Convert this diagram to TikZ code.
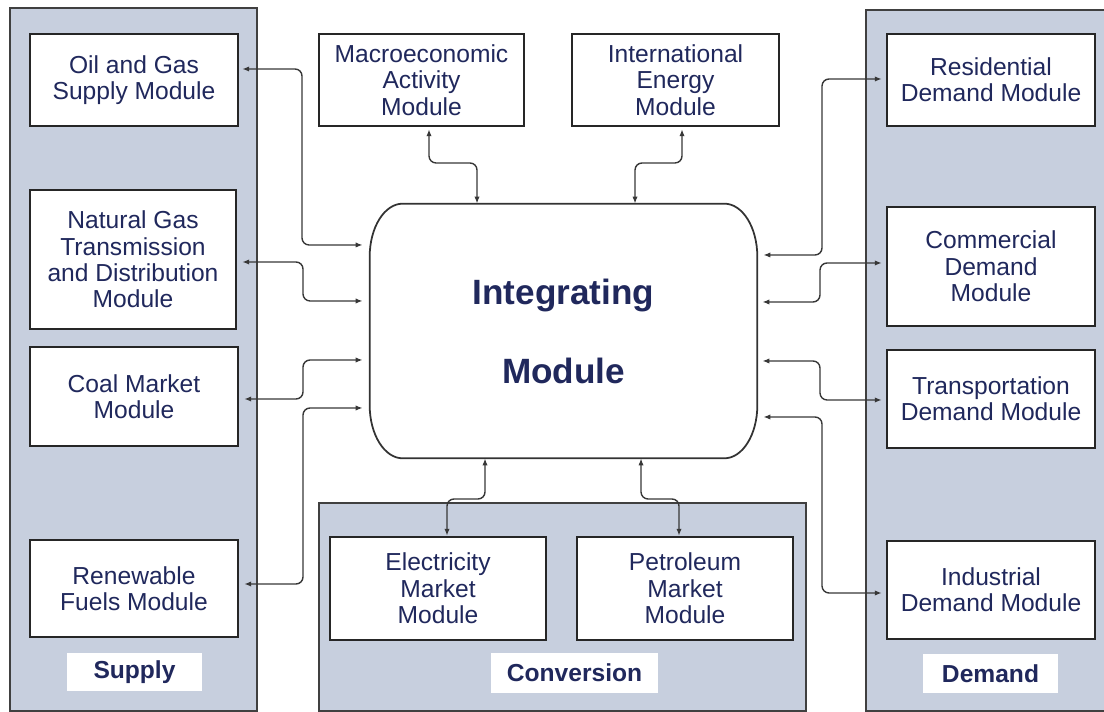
\documentclass[tikz,border=0pt]{standalone}
\usepackage{fontspec}
\setmainfont{Liberation Sans}
\usepackage{tikz}
\usetikzlibrary{arrows.meta,calc}

\definecolor{panelfill}{RGB}{199,207,222}
\definecolor{txtblue}{RGB}{32,40,92}
\definecolor{linkgray}{RGB}{55,55,55}

\newcommand{\modfont}{\fontsize{14}{15}\selectfont}
\newcommand{\tagfont}{\fontsize{14}{15}\selectfont\bfseries}

\tikzset{
  panel/.style={draw=black!75, fill=panelfill, line width=1pt},
  module/.style={rectangle, draw=black!85, fill=white, line width=1.3pt, align=center, text=txtblue, font=\modfont, inner sep=0pt},
  tag/.style={rectangle, fill=white, text=txtblue, font=\tagfont, inner sep=0pt},
  link/.style={{Latex[length=4pt,width=3pt]}-{Latex[length=4pt,width=3pt]}, draw=linkgray, line width=0.8pt, rounded corners=4pt},
}

\begin{document}
\begin{tikzpicture}[x=0.02cm, y=0.02cm]
\useasboundingbox (0,0) rectangle (1104,712);
\clip (0,0) rectangle (1104,712);

% grey panels behind the module groups
\draw[panel] (10,1) rectangle (257,704);
\draw[panel] (319,1) rectangle (806,209);
\draw[panel] (866,1) rectangle (1120,702);

% supply
\node[module, minimum width=4.16cm, minimum height=1.84cm] (oil) at (134,632) {Oil and Gas\\Supply Module};
\node[module, minimum width=4.12cm, minimum height=2.78cm] (natgas) at (133,452.5) {Natural Gas\\Transmission\\and Distribution\\Module};
\node[module, minimum width=4.16cm, minimum height=1.98cm] (coal) at (134,315.5) {Coal Market\\Module};
\node[module, minimum width=4.16cm, minimum height=1.94cm] (renew) at (134,123.5) {Renewable\\Fuels Module};
\node[tag, minimum width=2.7cm, minimum height=0.76cm] (supplylbl) at (134.5,40) {Supply};

% top row
\node[module, minimum width=4.1cm, minimum height=1.84cm] (macro) at (421.5,632) {Macroeconomic\\Activity\\Module};
\node[module, minimum width=4.14cm, minimum height=1.84cm] (intl) at (675.5,632) {International\\Energy\\Module};

% integrating module, outline drawn with elliptic corners
\node[align=center, text=txtblue, font=\fontsize{20}{45}\selectfont\bfseries, minimum width=7.74cm, minimum height=5.08cm, inner sep=0pt] (integ) at (563.5,381) {Integrating\\Module};
\draw[line width=1pt, draw=black!80] ($(integ.north west)+(33,0)$) -- ($(integ.north east)+(-33,0)$)
  arc[start angle=90, end angle=0, x radius=0.66cm, y radius=1.06cm]
  -- ($(integ.south east)+(0,53)$)
  arc[start angle=0, end angle=-90, x radius=0.66cm, y radius=1.06cm]
  -- ($(integ.south west)+(33,0)$)
  arc[start angle=270, end angle=180, x radius=0.66cm, y radius=1.06cm]
  -- ($(integ.north west)+(0,-53)$)
  arc[start angle=180, end angle=90, x radius=0.66cm, y radius=1.06cm]
  -- cycle;

% conversion
\node[module, minimum width=4.32cm, minimum height=2.06cm] (elec) at (438,123.5) {Electricity\\Market\\Module};
\node[module, minimum width=4.32cm, minimum height=2.06cm] (petro) at (685,123.5) {Petroleum\\Market\\Module};
\node[tag, minimum width=3.34cm, minimum height=0.8cm] (convlbl) at (574.5,39) {Conversion};

% demand
\node[module, minimum width=4.16cm, minimum height=1.84cm] (resid) at (991,632) {Residential\\Demand Module};
\node[module, minimum width=4.16cm, minimum height=2.38cm] (comm) at (991,445.5) {Commercial\\Demand\\Module};
\node[module, minimum width=4.16cm, minimum height=1.96cm] (transp) at (991,313) {Transportation\\Demand Module};
\node[module, minimum width=4.16cm, minimum height=1.96cm] (indus) at (991,122) {Industrial\\Demand Module};
\node[tag, minimum width=2.7cm, minimum height=0.78cm] (demandlbl) at (990.5,38.5) {Demand};

% links to the integrating module
\draw[link] ($(oil.east)+(3,11)$) -- (302,643) -- (302,467) -- ($(integ.west)+(-7,86)$);
\draw[link] ($(natgas.east)+(5,-2.5)$) -- (303,450) -- (303,411) -- ($(integ.west)+(-7,30)$);
\draw[link] ($(coal.east)+(5,-2.5)$) -- (303,313) -- (303,352) -- ($(integ.west)+(-7,-29)$);
\draw[link] ($(renew.east)+(5,4.5)$) -- (303,128) -- (303,304) -- ($(integ.west)+(-7,-77)$);

\draw[link] ($(macro.south)+(7.5,-2)$) -- (429,549) -- (477,549) -- ($(integ.north)+(-86.5,0)$);
\draw[link] ($(intl.south)+(6.5,-2)$) -- (682,549) -- (635,549) -- ($(integ.north)+(71.5,0)$);

\draw[link] ($(integ.south)+(-78.5,0)$) -- (485,213) -- (447,213) -- ($(elec.north)+(9,0)$);
\draw[link] ($(integ.south)+(77.5,0)$) -- (641,213) -- (679,213) -- ($(petro.north)+(-6,0)$);

\draw[link] ($(integ.east)+(6,76)$) -- (822,457) -- (822,633) -- ($(resid.west)+(-4,1)$);
\draw[link] ($(integ.east)+(5,29)$) -- (820,410) -- (820,449) -- ($(comm.west)+(-4,3.5)$);
\draw[link] ($(integ.east)+(5,-30)$) -- (820,351) -- (820,312) -- ($(transp.west)+(-4,-1)$);
\draw[link] ($(integ.east)+(6,-86)$) -- (822,295) -- (822,119) -- ($(indus.west)+(-4,-3)$);
\end{tikzpicture}
\end{document}
